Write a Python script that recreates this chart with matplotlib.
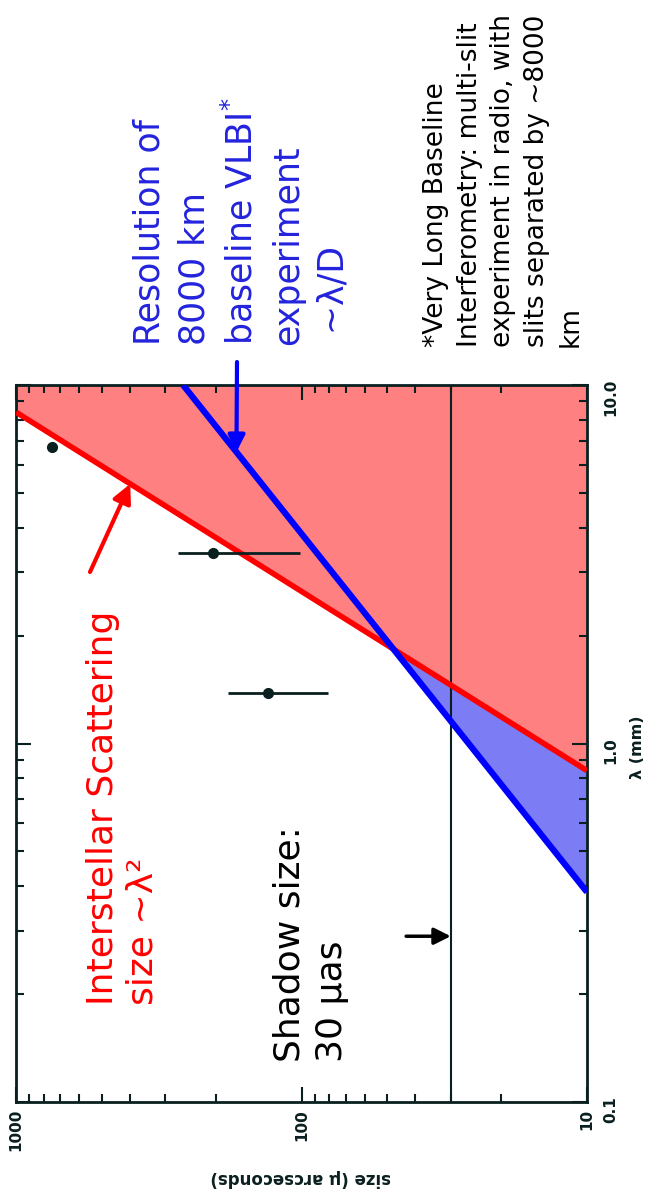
import numpy as np
import matplotlib
matplotlib.use("Agg")
import matplotlib.pyplot as plt
from matplotlib.ticker import LogLocator, FixedLocator, FixedFormatter, NullFormatter

W, H, DPI = 652, 1198, 100

# Observing wavelength (mm) versus angular size (micro-arcseconds)
scatter_lam = [0.84, 8.4]      # interstellar scattering, size ~ lambda^2
scatter_size = [10, 1000]
vlbi_lam = [0.385, 10.0]       # 8000 km baseline resolution, ~ lambda/D
vlbi_size = [10, 260]
shadow_size = 30               # black hole shadow

obs_lam = [6.7, 3.4, 1.38]
obs_size = [745, 204, 131]
obs_lo = [745, 101, 81]
obs_hi = [745, 271, 181]

size_ticks = [1000, 100, 10]
size_labels = ["1000", "100", "10"]
lam_ticks = [0.1, 1.0, 10.0]
lam_labels = ["0.1", "1.0", "10.0"]

RED = "#ff0000"
RED_FILL = "#ff8080"
BLUE = "#0000ff"
BLUE_FILL = "#7c7cf4"
INK = "#0a1f1f"


def px(x, y):
    """Pixel position (from top-left) to figure fraction."""
    return (x / W, 1 - y / H)


def line_fn(lams, sizes):
    b = (np.log10(sizes[1]) - np.log10(sizes[0])) / (np.log10(lams[1]) - np.log10(lams[0]))
    a = np.log10(sizes[0]) - b * np.log10(lams[0])
    return a, b


def size_on(lams, sizes, lam):
    a, b = line_fn(lams, sizes)
    return 10 ** (a + b * np.log10(lam))


fig = plt.figure(figsize=(W / DPI, H / DPI), dpi=DPI)
left, right, top, bottom = 16, 587, 385, 1102
ax = fig.add_axes([left / W, 1 - bottom / H, (right - left) / W, (bottom - top) / H])
ax.set_xscale("log")
ax.set_yscale("log")
ax.set_xlim(1000, 10)
ax.set_ylim(0.1, 10)

# scattering-dominated region
ax.fill([scatter_size[0], scatter_size[1], 1000, 10],
        [scatter_lam[0], scatter_lam[1], 10, 10],
        color=RED_FILL, lw=0, zorder=1)

# unresolved but not scattering-dominated region
a1, b1 = line_fn(scatter_lam, scatter_size)
a2, b2 = line_fn(vlbi_lam, vlbi_size)
lam_x = 10 ** ((a2 - a1) / (b1 - b2))
size_x = 10 ** (a1 + b1 * np.log10(lam_x))
ax.fill([vlbi_size[0], size_x, scatter_size[0]],
        [vlbi_lam[0], lam_x, scatter_lam[0]],
        color=BLUE_FILL, lw=0, zorder=1)

ax.plot(scatter_size, scatter_lam, color=RED, lw=4, zorder=3, solid_capstyle="butt")
ax.plot(vlbi_size, vlbi_lam, color=BLUE, lw=4.5, zorder=3, solid_capstyle="butt")
ax.axvline(shadow_size, color=INK, lw=1.5, zorder=2)

xerr = [np.array(obs_size) - np.array(obs_lo), np.array(obs_hi) - np.array(obs_size)]
ax.errorbar(obs_size, obs_lam, xerr=xerr, fmt="o", color=INK, ms=7,
            elinewidth=2, capsize=0, zorder=4)

# axes styling
for sp in ax.spines.values():
    sp.set_color(INK)
    sp.set_linewidth(2)
ax.xaxis.set_major_locator(FixedLocator(size_ticks))
ax.xaxis.set_major_formatter(FixedFormatter(size_labels))
ax.xaxis.set_minor_locator(LogLocator(base=10, subs=np.arange(2, 10)))
ax.xaxis.set_minor_formatter(NullFormatter())
ax.yaxis.set_major_locator(FixedLocator(lam_ticks))
ax.yaxis.set_major_formatter(FixedFormatter(lam_labels))
ax.yaxis.set_minor_locator(LogLocator(base=10, subs=np.arange(2, 10)))
ax.yaxis.set_minor_formatter(NullFormatter())
ax.tick_params(which="both", direction="in", top=True, bottom=True,
               left=True, right=True, color=INK, width=1.5)
ax.tick_params(which="major", length=11)
ax.tick_params(which="minor", length=6)
ax.tick_params(axis="x", labelrotation=90, labelsize=11, pad=5, labelcolor=INK)
ax.tick_params(axis="y", labelleft=False, labelright=True, labelrotation=90,
               labelsize=11, pad=12, labelcolor=INK)
for t in ax.get_xticklabels() + ax.get_yticklabels():
    t.set_fontweight("bold")

fig.text(*px(301, 1178), "size (μ arcseconds)", rotation=180, ha="center", va="center",
         fontsize=12, fontweight="bold", color=INK)
fig.text(*px(638, 747), "λ (mm)", rotation=90, ha="center", va="center",
         fontsize=11.5, fontweight="bold", color=INK)

# annotations
fig.text(*px(86, 1005), "Interstellar Scattering\nsize ~λ²", rotation=90,
         ha="left", va="bottom", multialignment="left", color=RED,
         fontsize=26, linespacing=1.2)
ax.annotate("", xy=(size_on(scatter_lam, scatter_size, 5.3), 5.3), xycoords="data",
            xytext=px(90, 572), textcoords="figure fraction",
            arrowprops=dict(arrowstyle="-|>", color=RED, lw=3, mutation_scale=28,
                            shrinkA=0, shrinkB=0))

fig.text(*px(272, 1062), "Shadow size:\n30 μas", rotation=90,
         ha="left", va="bottom", multialignment="left", color="black",
         fontsize=26, linespacing=1.35)
ax.annotate("", xy=(shadow_size, 0.29), xycoords="data",
            xytext=(43, 0.29), textcoords="data",
            arrowprops=dict(arrowstyle="-|>", color="black", lw=2.5, mutation_scale=25,
                            shrinkA=0, shrinkB=0))

fig.text(*px(132, 345), "Resolution of\n8000 km\nbaseline VLBI$^{*}$\nexperiment\n ~λ/D",
         rotation=90, ha="left", va="bottom", multialignment="left", color="#2323dd",
         fontsize=25, linespacing=1.42)
ax.annotate("", xy=(size_on(vlbi_lam, vlbi_size, 6.5), 6.5), xycoords="data",
            xytext=px(237, 362), textcoords="figure fraction",
            arrowprops=dict(arrowstyle="-|>", color=BLUE, lw=3, mutation_scale=25,
                            shrinkA=0, shrinkB=0))

fig.text(*px(423, 347),
         "*Very Long Baseline\nInterferometry: multi-slit\nexperiment in radio, with\n"
         "slits separated by ~8000\nkm",
         rotation=90, ha="left", va="bottom", multialignment="left", color="black",
         fontsize=19, linespacing=1.38)

fig.savefig("out.png", dpi=DPI)
